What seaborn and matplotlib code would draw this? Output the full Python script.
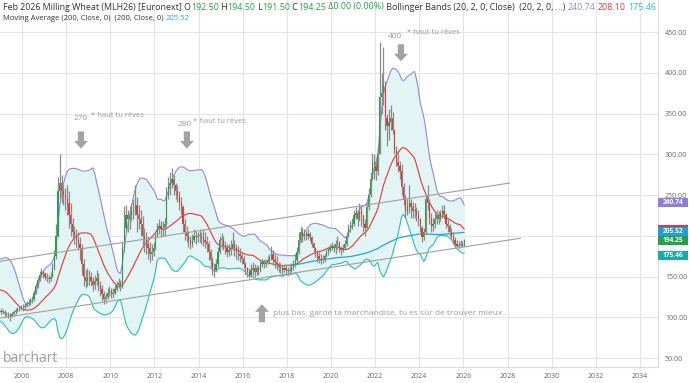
import numpy as np
import pandas as pd
import matplotlib
matplotlib.use("Agg")
import matplotlib.pyplot as plt
import matplotlib.transforms as mtransforms
from matplotlib.patches import Rectangle
import seaborn as sns

# monthly closes before the visible window (Jul 2001 - Dec 2004), only used by the indicators
closes_pre = [110, 112, 113, 112, 110, 110,
              110, 108, 106, 105, 104, 103, 102, 104, 106, 108, 110, 112,
              112, 112, 113, 114, 115, 118, 125, 135, 145, 150, 155, 158,
              160, 158, 155, 150, 142, 132, 122, 115, 112, 110, 108, 107]

# monthly candles Jan 2005 - Jan 2026
closes = [108, 107, 105, 104, 103, 102, 104, 106, 108, 110, 111, 112,   # 2005
          112, 114, 116, 118, 120, 122, 130, 138, 146, 152, 155, 153,   # 2006
          150, 148, 147, 150, 160, 175, 200, 255, 265, 255, 250, 245,   # 2007
          240, 225, 215, 205, 200, 195, 190, 185, 165, 150, 145, 148,   # 2008
          150, 145, 140, 145, 148, 140, 135, 128, 122, 125, 130, 132,   # 2009
          128, 130, 135, 140, 142, 138, 185, 210, 225, 220, 225, 230,   # 2010
          232, 238, 225, 220, 215, 200, 195, 190, 185, 178, 180, 185,   # 2011
          200, 210, 212, 208, 210, 215, 250, 262, 265, 270, 262, 255,   # 2012
          250, 240, 235, 215, 205, 200, 195, 190, 195, 200, 198, 200,   # 2013
          200, 198, 195, 192, 190, 180, 170, 160, 158, 165, 180, 195,   # 2014
          195, 188, 185, 180, 182, 185, 190, 185, 180, 178, 175, 172,   # 2015
          165, 160, 155, 152, 158, 160, 155, 160, 158, 165, 168, 165,   # 2016
          168, 170, 172, 178, 170, 168, 165, 162, 160, 158, 160, 158,   # 2017
          157, 158, 162, 165, 170, 180, 195, 205, 200, 202, 200, 202,   # 2018
          198, 190, 185, 180, 175, 172, 170, 172, 175, 180, 182, 185,   # 2019
          188, 185, 190, 192, 185, 182, 185, 190, 200, 210, 212, 215,   # 2020
          225, 228, 220, 230, 225, 215, 210, 235, 250, 270, 290, 285,   # 2021
          280, 300, 370, 375, 385, 345, 335, 340, 345, 330, 305, 290,   # 2022
          285, 280, 260, 245, 230, 235, 240, 235, 230, 230, 225, 220,   # 2023
          210, 198, 205, 245, 240, 222, 212, 215, 220, 225, 220, 228,   # 2024
          230, 225, 215, 212, 205, 200, 195, 190, 188, 189, 190, 188,   # 2025
          194.25]                                                       # 2026

highs = [111, 110, 109, 107, 106, 105, 107, 109, 111, 113, 114, 115,
         116, 118, 120, 122, 124, 126, 134, 142, 150, 157, 160, 158,
         156, 154, 152, 156, 166, 182, 215, 272, 300, 275, 262, 258,
         262, 255, 240, 222, 212, 208, 205, 198, 190, 172, 158, 160,
         158, 156, 150, 152, 158, 154, 145, 140, 132, 130, 136, 138,
         136, 136, 140, 145, 148, 146, 192, 236, 238, 232, 236, 240,
         245, 262, 248, 238, 232, 224, 210, 205, 200, 192, 190, 192,
         205, 216, 220, 218, 218, 222, 260, 272, 278, 283, 275, 265,
         262, 255, 248, 238, 220, 212, 206, 200, 202, 208, 206, 205,
         208, 205, 208, 205, 200, 194, 184, 174, 166, 172, 186, 200,
         203, 200, 194, 190, 190, 195, 205, 195, 190, 188, 185, 180,
         175, 168, 162, 160, 165, 168, 165, 164, 163, 170, 172, 172,
         172, 175, 178, 188, 182, 178, 175, 168, 166, 164, 164, 164,
         162, 163, 166, 170, 178, 186, 205, 212, 210, 208, 206, 208,
         205, 200, 192, 186, 182, 180, 178, 176, 178, 184, 186, 190,
         192, 190, 195, 200, 194, 188, 190, 195, 205, 215, 218, 222,
         232, 235, 230, 240, 238, 226, 220, 242, 258, 278, 302, 300,
         292, 310, 438, 400, 432, 390, 350, 355, 360, 352, 330, 310,
         302, 292, 288, 265, 250, 245, 262, 245, 242, 240, 235, 232,
         222, 212, 210, 250, 262, 245, 228, 222, 228, 232, 230, 232,
         238, 238, 228, 220, 215, 210, 205, 198, 195, 194, 195, 194,
         196]

lows = [104, 104, 102, 100, 99, 96, 100, 102, 104, 106, 108, 109,
        108, 110, 112, 114, 115, 117, 120, 128, 136, 144, 149, 148,
        146, 143, 142, 144, 149, 158, 172, 198, 245, 240, 238, 232,
        225, 210, 200, 196, 190, 186, 182, 170, 152, 138, 136, 138,
        140, 138, 132, 135, 140, 132, 126, 120, 116, 118, 122, 126,
        124, 124, 128, 132, 136, 132, 136, 180, 205, 205, 208, 218,
        220, 225, 205, 208, 200, 188, 180, 178, 172, 168, 170, 175,
        182, 198, 202, 198, 200, 200, 212, 245, 250, 258, 250, 245,
        242, 232, 225, 205, 195, 192, 186, 184, 186, 192, 190, 192,
        192, 190, 188, 185, 180, 170, 162, 152, 150, 155, 162, 178,
        185, 182, 178, 174, 175, 176, 182, 175, 172, 170, 168, 165,
        160, 152, 150, 148, 150, 152, 150, 152, 152, 156, 162, 160,
        162, 165, 166, 170, 164, 160, 158, 156, 154, 152, 155, 152,
        152, 153, 155, 158, 162, 168, 178, 192, 192, 195, 195, 196,
        194, 186, 180, 174, 168, 166, 165, 166, 168, 174, 177, 180,
        182, 180, 178, 184, 180, 176, 180, 184, 188, 198, 205, 208,
        212, 220, 212, 218, 212, 205, 200, 208, 232, 248, 268, 270,
        268, 275, 300, 350, 360, 330, 310, 318, 330, 325, 300, 285,
        278, 270, 250, 238, 222, 225, 228, 222, 222, 222, 218, 212,
        205, 192, 195, 202, 232, 215, 205, 206, 210, 215, 214, 218,
        222, 220, 210, 205, 200, 196, 190, 186, 186, 185, 187, 186,
        187]

price_ticks = [50, 100, 150, 200, 250, 300, 350, 400, 450]
hidden_price_labels = [200]          # covered by the value boxes on the chart
year_ticks = list(range(2006, 2035, 2))

# hand drawn channel (year, price)
channel_top = [(2005.0, 168.6), (2028.1, 264.7)]
channel_bottom = [(2005.0, 99.0), (2028.6, 197.0)]

# last values shown on the price axis
last_labels = ["240.74", "205.52", "194.25", "175.46"]
last_prices = [240.74, 205.52, 194.25, 175.46]
last_colors = ["#8f7fdc", "#1f9fd6", "#22a34a", "#16aaa8"]
bb_mid_last = 208.10

GREEN = "#22a34a"
RED = "#e53935"
GRAY_TXT = "#9a9a9a"

# ---- indicators
all_close = pd.Series(closes_pre + closes, dtype=float)
t_all = 2001.5 + (np.arange(len(all_close)) + 0.5) / 12
bb_mid = all_close.rolling(20).mean()
bb_sd = all_close.rolling(20).std(ddof=0)
df = pd.DataFrame({"t": t_all, "close": all_close, "mid": bb_mid,
                   "upper": bb_mid + 2 * bb_sd, "lower": bb_mid - 2 * bb_sd,
                   "ma200": all_close.rolling(200).mean()})

n_pre = len(closes_pre)
cd = df.iloc[n_pre:].copy()
cd["open"] = df["close"].shift(1).iloc[n_pre:]
cd["high"] = np.maximum.reduce([highs, cd["open"], cd["close"]])
cd["low"] = np.minimum.reduce([lows, cd["open"], cd["close"]])

sns.set_theme(style="white")
plt.rcParams["font.family"] = ["Open Sans", "DejaVu Sans"]

fig = plt.figure(figsize=(6.9, 3.83), dpi=100)
ax = fig.add_axes([0, 16 / 383, 658 / 690, 367 / 383])

# bollinger fill + lines
bd = df.dropna(subset=["upper"])
ax.fill_between(bd["t"], bd["lower"], bd["upper"], color="#e2f4f4", lw=0, zorder=1)
sns.lineplot(data=bd, x="t", y="upper", color="#9288dc", lw=0.8, ax=ax, estimator=None, zorder=3)
sns.lineplot(data=bd, x="t", y="lower", color="#2bbcc0", lw=0.8, ax=ax, estimator=None, zorder=3)
sns.lineplot(data=bd, x="t", y="mid", color="#e8333d", lw=0.8, ax=ax, estimator=None, zorder=4)
md = df.dropna(subset=["ma200"])
sns.lineplot(data=md, x="t", y="ma200", color="#22a6d8", lw=0.9, ax=ax, estimator=None, zorder=4)

# candles
up = cd["close"] >= cd["open"]
ax.vlines(cd["t"], cd["low"], cd["high"], color="#8c8c8c", lw=0.9, zorder=5)
body_lo = np.minimum(cd["open"], cd["close"])
body_h = np.maximum(np.abs(cd["close"] - cd["open"]), 1.0)
ax.bar(cd["t"], body_h, bottom=body_lo, width=0.055,
       color=np.where(up, GREEN, RED), lw=0, zorder=6)

# channel
for line in (channel_top, channel_bottom):
    xs, ys = zip(*line)
    ax.plot(xs, ys, color="#a0a0a0", lw=0.8, zorder=7)

# annotations
ann_kw = dict(color=GRAY_TXT, fontsize=5.5, zorder=8)
ax.text(2008.35, 344, "270", ha="left", va="center", fontsize=6, color=GRAY_TXT)
ax.text(2009.12, 348, "* haut tu rêves", ha="left", va="center", **ann_kw)
ax.text(2013.05, 336, "280", ha="left", va="center", fontsize=6, color=GRAY_TXT)
ax.text(2013.75, 340, "* haut tu rêves", ha="left", va="center", **ann_kw)
ax.text(2022.6, 444, "400", ha="left", va="center", fontsize=6, color=GRAY_TXT)
ax.text(2023.45, 449, "* haut tu rêves", ha="left", va="center", **ann_kw)
ax.text(2017.35, 105, "plus bas, garde ta marchandise, tu es sûr de trouver mieux .",
        ha="left", va="center", color=GRAY_TXT, fontsize=6)

arrow_kw = dict(arrowstyle="simple,head_width=1.0,head_length=0.55,tail_width=0.45",
                color="#a3a3a3", lw=0, shrinkA=0, shrinkB=0, mutation_scale=10)
for x, y0, y1 in [(2008.67, 328, 307), (2013.47, 328, 307), (2023.17, 435, 414),
                  (2016.87, 94, 116)]:
    ax.annotate("", xy=(x, y1), xytext=(x, y0), arrowprops=arrow_kw, zorder=8)

# axes styling
ax.set_xlim(2005.0, 2034.82)
ax.set_ylim(38.96, 489.3)
ax.set_xticks(year_ticks)
ax.set_xticklabels([str(y) for y in year_ticks])
ax.set_yticks(price_ticks)
ax.set_yticklabels(["" if p in hidden_price_labels else f"{p:.2f}" for p in price_ticks])
ax.yaxis.tick_right()
ax.tick_params(axis="both", length=0, labelsize=5, labelcolor="#666666")
ax.tick_params(axis="x", pad=4)
ax.tick_params(axis="y", pad=5)
ax.grid(True, color="#e4e4e4", lw=0.8)
ax.set_axisbelow(True)
ax.set_xlabel("")
ax.set_ylabel("")
for side in ("left", "top"):
    ax.spines[side].set_visible(False)
for side in ("right", "bottom"):
    ax.spines[side].set_color("#dcdcdc")
    ax.spines[side].set_linewidth(0.8)

# value boxes on the price axis (mid band value sits behind the 205.52 box)
trans = mtransforms.blended_transform_factory(ax.transAxes, ax.transData)
px_price = (489.3 - 38.96) / 367
ax.add_patch(Rectangle((1.0, bb_mid_last - 4.5 * px_price), 30 / 658, 9 * px_price,
                       transform=trans, fc="#e8333d", ec="none", clip_on=False, zorder=19))
for i, (lab, val, col) in enumerate(zip(last_labels, last_prices, last_colors)):
    ax.add_patch(Rectangle((1.0, val - 4.5 * px_price), 30 / 658, 9 * px_price,
                           transform=trans, fc=col, ec="none", clip_on=False, zorder=20 + i))
    ax.text(1.0 + 15 / 658, val, lab, transform=trans, ha="center", va="center",
            fontsize=4.8, color="white", fontweight="bold", clip_on=False, zorder=30)

# header legend (multi colour text)
renderer = fig.canvas.get_renderer()


def header(y, segs, size):
    x = 3 / 690
    for s, c in segs:
        t = fig.text(x, y, s, color=c, fontsize=size, ha="left", va="center")
        bb = t.get_window_extent(renderer)
        x = bb.x1 / fig.bbox.width


DARK = "#333333"
header(1 - 7 / 383, [("Feb 2026 Milling Wheat (MLH26) [Euronext] O", DARK), ("192.50", GREEN),
                      (" H", DARK), ("194.50", GREEN), (" L", DARK), ("191.50", GREEN),
                      (" C", DARK), ("194.25", GREEN), (" Δ0.00 (0.00%)", GREEN),
                      (" Bollinger Bands (20, 2, 0, Close)  (20, 2, 0, ...) ", DARK),
                      ("240.74", "#9288dc"), (" ", DARK), ("208.10", "#e8333d"),
                      (" ", DARK), ("175.46", "#2bbcc0")], 6.4)
header(1 - 19 / 383, [("Moving Average (200, Close, 0)  (200, Close, 0) ", DARK),
                       ("205.52", "#22a6d8")], 5.5)

fig.text(3 / 690, 1 - 358 / 383, "barchart", color="#9d9d9d", fontsize=10,
         ha="left", va="center")

fig.savefig("out.png", dpi=100)
